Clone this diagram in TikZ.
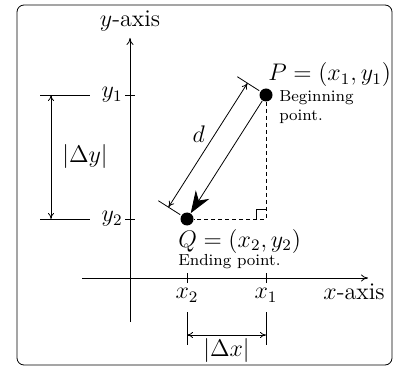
\documentclass[tikz,border=0pt]{standalone}
\usepackage{tikz}
\usetikzlibrary{arrows.meta, positioning, calc}
\tikzset{
  dot/.style   = {circle, fill=black, minimum size=6.5pt, inner sep=0pt},
  lbl/.style   = {inner sep=1pt, font=\large},
  small/.style = {inner sep=1pt, font=\footnotesize, align=left},
  axis/.style  = {-{To[length=3.5pt, width=3.5pt]}},
  dim/.style   = {{To[length=3pt, width=3pt]}-{To[length=3pt, width=3pt]}},
  hint/.style  = {dashed, dash pattern=on 2pt off 1.5pt},
  mv/.style    = {-{Stealth[length=11pt, width=8pt, inset=3.5pt]}},
}

\begin{document}
\begin{tikzpicture}[x=0.5pt, y=-0.5pt, node distance=2pt]
  \useasboundingbox (0,0) rectangle (400,368);
  \draw[rounded corners=3.5pt] (17,5) rectangle (392,365);

  % axes
  \coordinate (xstart) at (82,278);
  \coordinate (xend)   at (368,278);
  \coordinate (ystart) at (130,322);
  \coordinate (yend)   at (130,38);
  \draw[axis] (xstart) -- (xend);
  \draw[axis] (ystart) -- (yend);
  \node[lbl, above=2pt of yend] (ylab) {$y$-axis};
  \node[lbl, below left=1.5pt and -9.5pt of xend] (xlab) {$x$-axis};

  % points
  \node[dot] (P) at (266,95)  {};
  \node[dot] (Q) at (187,219) {};
  \coordinate (R) at (P |- Q);
  \node[lbl, above right=0.5pt and -2.5pt of P] (plab) {$P = (x_1, y_1)$};
  \node[small, below right=-6pt and 3pt of P] (pbeg) {Beginning\\point.};
  \node[lbl, below right=1.5pt and -8pt of Q] (qlab) {$Q = (x_2, y_2)$};
  \node[small, below right=-2pt and 0pt of qlab.south west] (qend) {Ending point.};

  \draw[hint] (P) -- (R) -- (Q);
  \draw ($(R)+(-10,0)$) -- ++(0,-10) -- ++(10,0);
  \draw[mv] (P) -- (Q);

  % distance d
  \draw ($(P)!4pt!-90:(Q)$) -- ($(P)!17pt!-90:(Q)$);
  \draw ($(Q)!4pt!90:(P)$)  -- ($(Q)!17pt!90:(P)$);
  \draw[dim] ($(P)!11pt!-90:(Q)$) -- node[lbl, above left=0.5pt] {$d$} ($(Q)!11pt!90:(P)$);

  % ticks
  \coordinate (y1) at (ystart |- P);
  \coordinate (y2) at (ystart |- Q);
  \coordinate (x1) at (P |- xstart);
  \coordinate (x2) at (Q |- xstart);
  \foreach \t in {y1,y2}
    \draw ([xshift=-2.5pt]\t) -- ([xshift=2.5pt]\t);
  \foreach \t in {x1,x2}
    \draw ([yshift=-2.5pt]\t) -- ([yshift=2.5pt]\t);
  \node[lbl, left=2.5pt of y1] (y1lab) {$y_1$};
  \node[lbl, left=2.5pt of y2] (y2lab) {$y_2$};
  \node[lbl, below=4pt of x1] (x1lab) {$x_1$};
  \node[lbl, below=4pt of x2] (x2lab) {$x_2$};

  % delta y
  \foreach \t in {y1,y2}
    \draw ([xshift=-45pt]\t) -- ([xshift=-20pt]\t);
  \draw[dim] ([xshift=-39.5pt]y1) -- node[lbl, right=4.5pt] (dylab) {$|\Delta y|$} ([xshift=-39.5pt]y2);

  % delta x
  \foreach \t in {x1,x2}
    \draw ([yshift=-17pt]\t) -- ([yshift=-33.5pt]\t);
  \draw[dim] ([yshift=-28.5pt]x2) -- node[lbl, below=0.5pt] (dxlab) {$|\Delta x|$} ([yshift=-28.5pt]x1);
\end{tikzpicture}
\end{document}
